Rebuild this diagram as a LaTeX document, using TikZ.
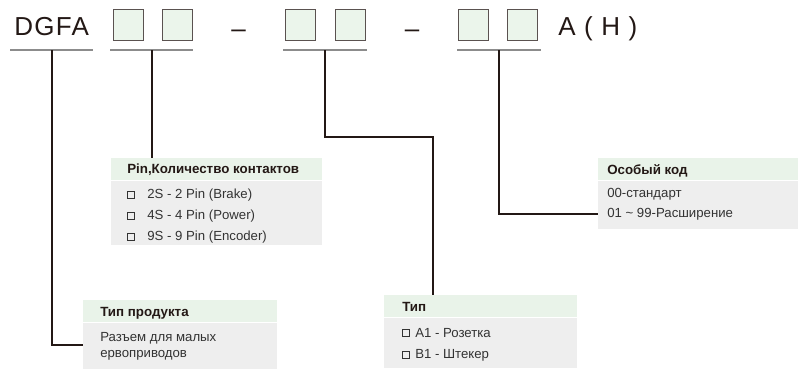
\documentclass[tikz,border=0pt]{standalone}
\usepackage{fontspec}
\setmainfont{Liberation Sans}
\newfontfamily\bigfont[LetterSpace=5]{Liberation Sans}
\definecolor{ink}{HTML}{231815}
\definecolor{txt}{HTML}{333333}
\definecolor{boxg}{HTML}{EBF5EB}
\definecolor{hdrg}{HTML}{E9F3E9}
\definecolor{bodyg}{HTML}{EEEEEE}
\definecolor{ulg}{HTML}{8C8C8C}
\begin{document}
\begin{tikzpicture}[x=0.75pt,y=-0.75pt,
  codebox/.style={draw=ink!75, line width=0.7pt, fill=boxg, minimum width=22.5pt, minimum height=23pt, inner sep=0pt},
  bigtxt/.style={font=\bigfont\fontsize{19.5}{22}\selectfont, text=ink, inner sep=0pt},
  uline/.style={draw=ulg, line width=1.2pt},
  conn/.style={draw=ink, line width=1.1pt},
  hdr/.style={fill=hdrg, anchor=north west, inner sep=0pt},
  bdy/.style={fill=bodyg, anchor=north west, inner sep=0pt},
  htxt/.style={font=\bfseries\fontsize{10}{12}\selectfont, text=ink, anchor=west, inner sep=0pt},
  btxt/.style={font=\fontsize{9.9}{12}\selectfont, text=txt, anchor=west, inner sep=0pt},
  chk/.style={draw=txt, line width=0.5pt, minimum size=5.4pt, inner sep=0pt}
]
\useasboundingbox (0,0) rectangle (798,369);
% top code line
\node[bigtxt, anchor=base west] (dgfa) at (14,35) {DGFA};
\node[codebox] (b1) at (128,25) {};
\node[codebox] (b2) at (177.5,25) {};
\node[bigtxt, anchor=base] (d1) at (238.5,37) {–};
\node[codebox] (b3) at (300.5,25) {};
\node[codebox] (b4) at (350.5,25) {};
\node[bigtxt, anchor=base] (d2) at (412,37) {–};
\node[codebox] (b5) at (473.5,25) {};
\node[codebox] (b6) at (522.5,25) {};
\node[bigtxt, anchor=base west] (ah) at (558,35) {A ( H )};
% underlines
\draw[uline] (10,50) -- (93,50);
\draw[uline] (110,50) -- (193,50);
\draw[uline] (283,50) -- (367,50);
\draw[uline] (457,50) -- (541,50);
\coordinate (u1) at (52,50);
\coordinate (u2) at (152,50);
\coordinate (u3) at (325,50);
\coordinate (u4) at (499,50);
% info boxes
\node[hdr, minimum width=158.25pt, minimum height=16.5pt] (pinh) at (111,158) {};
\node[bdy, minimum width=158.25pt, minimum height=48pt] (pinb) at (111,181) {};
\node[htxt] (pint) at (127,170) {Pin,Количество контактов};
\node[chk] (pc1) at (131,195) {};
\node[btxt] (p1) at (147,195) {2S - 2 Pin (Brake)};
\node[chk] (pc2) at (131,216) {};
\node[btxt] (p2) at (147,216) {4S - 4 Pin (Power)};
\node[chk] (pc3) at (131,237) {};
\node[btxt] (p3) at (147,237) {9S - 9 Pin (Encoder)};

\node[hdr, minimum width=150pt, minimum height=16.5pt] (osh) at (598,158) {};
\node[bdy, minimum width=150pt, minimum height=36pt] (osb) at (598,181) {};
\node[htxt] (ost) at (607,171) {Особый код};
\node[btxt] (o1) at (607,194) {00-стандарт};
\node[btxt] (o2) at (607,214) {01 \textasciitilde\ 99-Расширение};

\node[hdr, minimum width=145.5pt, minimum height=16.5pt] (tph) at (83,300) {};
\node[bdy, minimum width=145.5pt, minimum height=34pt] (tpb) at (83,323) {};
\node[htxt] (tpt) at (100,313) {Тип продукта};
\node[btxt] (t1) at (100,338) {Разъем для малых};
\node[btxt] (t2) at (100,355) {ервоприводов};

\node[hdr, minimum width=144.75pt, minimum height=16.5pt] (tyh) at (384,295) {};
\node[bdy, minimum width=144.75pt, minimum height=37.5pt] (tyb) at (384,318) {};
\node[htxt] (tyt) at (402,307) {Тип};
\node[chk] (yc1) at (406,333) {};
\node[btxt] (y1) at (415,333) {A1 - Розетка};
\node[chk] (yc2) at (406,355) {};
\node[btxt] (y2) at (415,355) {B1 - Штекер};
% connectors
\coordinate (k1) at (52,345);
\coordinate (k3a) at (325,137);
\coordinate (k3b) at (433,137);
\coordinate (k4) at (499,214);
\draw[conn] (u1) -- (k1) -- (k1 -| tpb.west);
\draw[conn] (u2) -- (u2 |- pinh.north);
\draw[conn] (u3) -- (k3a) -- (k3b) -- (k3b |- tyh.north);
\draw[conn] (u4) -- (k4) -- (k4 -| osb.west);
\end{tikzpicture}
\end{document}
